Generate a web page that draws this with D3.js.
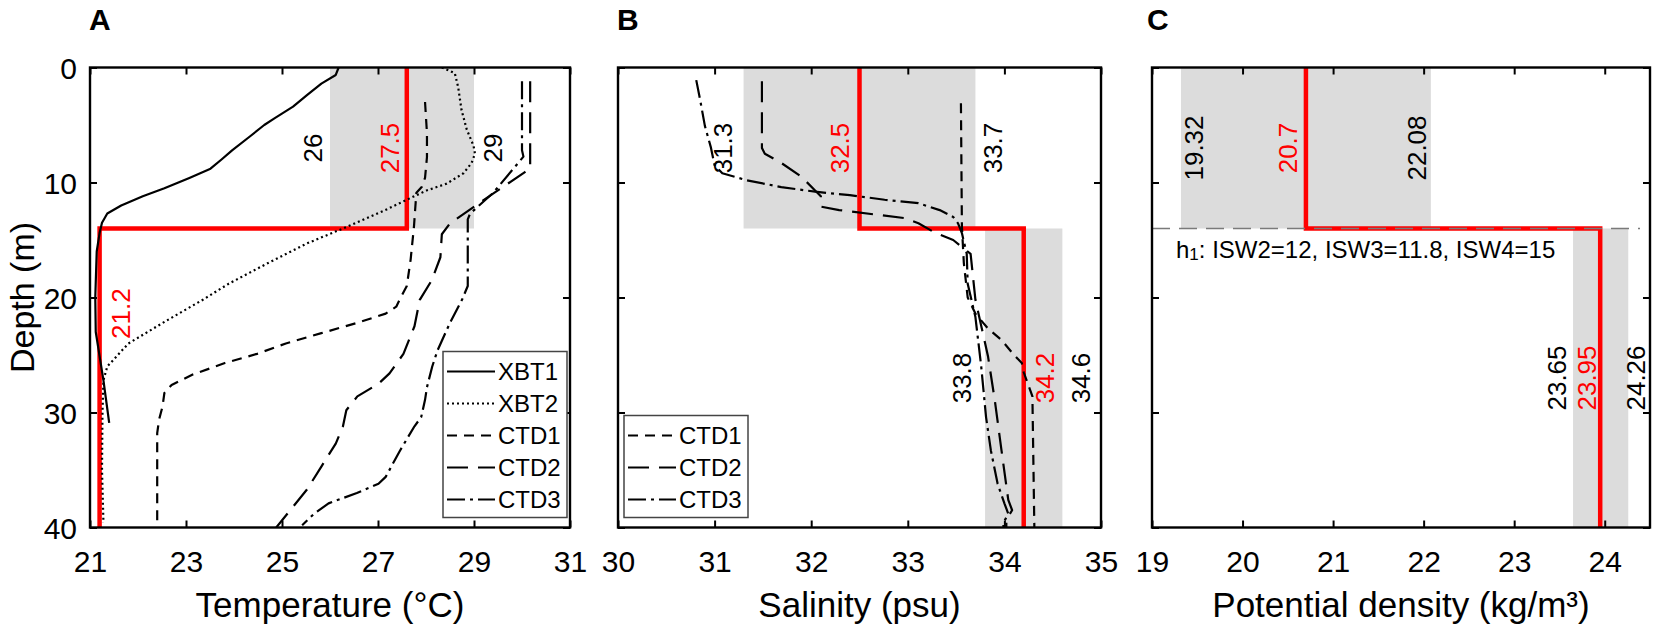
<!DOCTYPE html>
<html>
<head>
<meta charset="utf-8">
<script src="https://cdn.jsdelivr.net/npm/d3@7/dist/d3.min.js"></script>
<style>
  body { margin: 0; background: #fff; }
  svg text { font-family: "Liberation Sans", Arial, Helvetica, sans-serif; }
</style>
</head>
<body>
<svg id="chart" width="1655" height="630"></svg>
<script>
// ---------------- DATA ----------------
const depthTicks = [0, 10, 20, 30, 40];
const tempTicks = [21, 23, 25, 27, 29, 31];
const salTicks = [30, 31, 32, 33, 34, 35];
const densTicks = [19, 20, 21, 22, 23, 24];
const depthDomain = [0, 40];
const tempDomain = [21, 31];
const salDomain = [30, 35];
const densDomain = [19, 24.5];
const interfaceDepth = 14;

// two-layer means [upper, lower]
const tempMean = [27.6, 21.2];
const salMean = [32.5, 34.2];
const densMean = [20.7, 23.95];

// shaded ranges [low, high] for [upper layer, lower layer]
const tempBands = [[26, 29], null];
const salBands = [[31.3, 33.7], [33.8, 34.6]];
const densBands = [[19.32, 22.08], [23.65, 24.26]];

// value labels: text, reference value, depth, isMean
const tempLabels = [
  { t: "26", v: 26, d: 7, mean: false },
  { t: "27.5", v: 27.6, d: 7, mean: true },
  { t: "29", v: 29, d: 7, mean: false },
  { t: "21.2", v: 21.2, d: 21.4, mean: true }
];
const salLabels = [
  { t: "31.3", v: 31.3, d: 7, mean: false },
  { t: "32.5", v: 32.5, d: 7, mean: true },
  { t: "33.7", v: 33.7, d: 7, mean: false },
  { t: "33.8", v: 33.8, d: 27, mean: false },
  { t: "34.2", v: 34.2, d: 27, mean: true },
  { t: "34.6", v: 34.6, d: 27, mean: false }
];
const densLabels = [
  { t: "19.32", v: 19.32, d: 7, mean: false },
  { t: "20.7", v: 20.7, d: 7, mean: true },
  { t: "22.08", v: 22.08, d: 7, mean: false },
  { t: "23.65", v: 23.65, d: 27, mean: false },
  { t: "23.95", v: 23.95, d: 27, mean: true },
  { t: "24.26", v: 24.26, d: 27, mean: false }
];
const isoNote = ["h", "1", ": ISW2=12, ISW3=11.8, ISW4=15"];

// profiles: [depth (m), value]
const xbt1Temp = [[0,26.18],[0.65,26.12],[1.4,25.82],[2.4,25.52],[3.4,25.23],[4.4,24.85],[5.0,24.63],[6.0,24.33],[7.2,23.96],[8.0,23.74],[8.8,23.51],[9.6,23.07],[10.5,22.55],[11.2,22.10],[12.0,21.65],[12.7,21.36],[13.5,21.25],[14.4,21.2],[16,21.14],[20,21.11],[23,21.12],[27.2,21.28],[30.9,21.4]];
const xbt2Temp = [[0,28.33],[0.5,28.6],[1.7,28.67],[3.7,28.74],[5.4,28.85],[6.8,28.99],[7.5,29.02],[8.3,28.95],[9.2,28.78],[10.1,28.43],[10.7,28.01],[11.5,27.6],[12.4,27.15],[14.0,26.27],[15.3,25.52],[17.0,24.71],[18.8,23.89],[20.2,23.35],[22.0,22.6],[24.0,21.8],[26.0,21.36],[27.2,21.28],[30,21.26],[35,21.25],[39.6,21.28]];
const ctd1Temp = [[3.0,27.98],[5.7,28.02],[7.8,28.02],[9.6,27.98],[10.4,27.91],[10.9,27.8],[12,27.78],[13.8,27.75],[16.7,27.68],[19.0,27.6],[20.2,27.45],[20.8,27.38],[21.4,27.16],[22.2,26.57],[23.1,25.82],[24.0,25.08],[24.9,24.48],[25.7,23.81],[26.7,23.14],[27.6,22.70],[28.3,22.55],[29.5,22.51],[30.6,22.44],[31.8,22.40],[40,22.40]];
const ctd2Temp = [[1.2,30.17],[8.8,30.17],[9.1,30.06],[10.9,29.42],[13.55,28.5],[14.5,28.33],[16.5,28.3],[18.5,28.12],[20.2,27.87],[22.5,27.76],[24.9,27.53],[26.6,27.24],[27.5,27.01],[28.6,26.57],[29.8,26.34],[31.2,26.27],[32.7,26.12],[34.7,25.82],[36.7,25.52],[38.2,25.23],[40,24.88]];
const ctd3Temp = [[1.2,30.0],[7.2,30.0],[7.75,30.03],[10.9,29.4],[12.7,28.92],[13.2,28.87],[19.0,28.87],[20.2,28.75],[22.2,28.5],[24.6,28.24],[26.0,28.13],[27.8,28.02],[28.9,27.98],[30.4,27.9],[31.2,27.76],[33.3,27.46],[35.6,27.16],[36.2,27.01],[37.0,26.56],[37.9,25.97],[38.8,25.67],[39.8,25.42]];

const ctd1Sal = [[3.1,33.55],[13.8,33.56],[17,33.58],[20,33.62],[21.4,33.70],[22.7,33.83],[23.7,33.97],[24.9,34.09],[25.7,34.18],[26.5,34.2],[28.6,34.29],[40,34.31]];
const ctd2Sal = [[1.2,31.49],[7.0,31.49],[7.5,31.52],[8.3,31.69],[9.5,31.90],[10.7,32.04],[11.2,32.10],[12.1,32.1],[12.4,32.29],[13.1,32.97],[13.55,33.11],[14.4,33.29],[15.0,33.47],[16.2,33.65],[20.2,33.70],[25.1,33.83],[28.9,33.90],[33.3,33.97],[37.6,34.04],[38.5,34.08],[39.3,34.02],[40,34.02]];
const ctd3Sal = [[1.1,30.81],[2.8,30.85],[5.1,30.90],[6.9,30.96],[8.5,31.0],[9.2,31.08],[9.8,31.33],[10.4,31.69],[10.8,32.04],[11.1,32.40],[11.5,32.76],[11.8,33.11],[12.4,33.33],[13.0,33.47],[13.55,33.52],[14.4,33.56],[16.2,33.61],[18.8,33.62],[21.7,33.70],[26.0,33.76],[30.4,33.81],[33.3,33.86],[36.2,33.93],[37.9,34.0],[38.8,34.04],[39.6,33.99],[40,33.99]];

const tempSeriesNames = ["XBT1", "XBT2", "CTD1", "CTD2", "CTD3"];
const salSeriesNames = ["CTD1", "CTD2", "CTD3"];

// ---------------- LAYOUT / STYLE ----------------
const W = 1655, H = 630;
const plotTop = 67.5, plotBottom = 527.5;
const dashes = { XBT1: null, XBT2: "2,3", CTD1: "10,7", CTD2: "21,10", CTD3: "18,5,3,5" };
const RED = "#ff0000", BAND = "#dcdcdc";
const tempLabelDx = [-17, -17, 19, 21];
const salLabelDx = [-21, -20, 17, -23, 21, 18];
const densLabelDx = [13, -18, -14, -16, -14, 7];

const panels = [
  { letter: "A", left: 90, right: 570, domain: tempDomain, ticks: tempTicks, title: "Temperature (°C)",
    mean: tempMean, bands: tempBands, labels: tempLabels, dx: tempLabelDx,
    series: [xbt1Temp, xbt2Temp, ctd1Temp, ctd2Temp, ctd3Temp], names: tempSeriesNames, legend: "right", yLabels: true },
  { letter: "B", left: 618, right: 1101, domain: salDomain, ticks: salTicks, title: "Salinity (psu)",
    mean: salMean, bands: salBands, labels: salLabels, dx: salLabelDx,
    series: [ctd1Sal, ctd2Sal, ctd3Sal], names: salSeriesNames, legend: "left", yLabels: false },
  { letter: "C", left: 1152, right: 1650, domain: densDomain, ticks: densTicks, title: "Potential density (kg/m³)",
    mean: densMean, bands: densBands, labels: densLabels, dx: densLabelDx,
    series: [], names: [], legend: null, yLabels: false, interfaceLine: true, note: true }
];

const svg = d3.select("#chart");
const y = d3.scaleLinear().domain(depthDomain).range([plotTop, plotBottom]);
const defs = svg.append("defs");

panels.forEach((p, pi) => {
  const x = d3.scaleLinear().domain(p.domain).range([p.left, p.right]);
  const g = svg.append("g");
  const clipId = "clip" + pi;
  defs.append("clipPath").attr("id", clipId).append("rect")
    .attr("x", p.left).attr("y", plotTop).attr("width", p.right - p.left).attr("height", plotBottom - plotTop);
  const plot = g.append("g").attr("clip-path", `url(#${clipId})`);

  // shaded bands
  p.bands.forEach((b, i) => {
    if (!b) return;
    const d0 = i === 0 ? depthDomain[0] : interfaceDepth;
    const d1 = i === 0 ? interfaceDepth : depthDomain[1];
    plot.append("rect")
      .attr("x", x(b[0])).attr("y", y(d0))
      .attr("width", x(b[1]) - x(b[0])).attr("height", y(d1) - y(d0))
      .attr("fill", BAND);
  });

  // two-layer mean (red step)
  const stepPts = [[depthDomain[0], p.mean[0]], [interfaceDepth, p.mean[0]], [interfaceDepth, p.mean[1]], [depthDomain[1], p.mean[1]]];
  const line = d3.line().x(d => x(d[1])).y(d => y(d[0]));
  plot.append("path").attr("d", line(stepPts))
    .attr("fill", "none").attr("stroke", RED).attr("stroke-width", 4.5).attr("stroke-linejoin", "miter");

  // interface dashed line
  if (p.interfaceLine) {
    plot.append("line")
      .attr("x1", x(p.domain[0])).attr("x2", x(p.domain[1]) - 10)
      .attr("y1", y(interfaceDepth)).attr("y2", y(interfaceDepth))
      .attr("stroke", "#7a7a7a").attr("stroke-width", 1.6).attr("stroke-dasharray", "18,9");
  }

  // profiles
  p.series.forEach((s, i) => {
    plot.append("path").attr("d", line(s))
      .attr("fill", "none").attr("stroke", "#000").attr("stroke-width", 2.2)
      .attr("stroke-linejoin", "round")
      .attr("stroke-dasharray", dashes[p.names[i]]);
  });

  // axes (inward ticks, mirrored)
  const styleAxis = a => {
    a.select(".domain").remove();
    a.selectAll("line").attr("stroke", "#000").attr("stroke-width", 2);
  };
  g.append("g").attr("transform", `translate(0,${plotBottom})`)
    .call(d3.axisBottom(x).tickValues(p.ticks).tickSize(-7).tickFormat(d3.format("d")))
    .call(styleAxis)
    .call(a => a.selectAll("text").attr("y", 44.5).attr("dy", 0).attr("font-size", 30).attr("fill", "#000"));
  g.append("g").attr("transform", `translate(0,${plotTop})`)
    .call(d3.axisTop(x).tickValues(p.ticks).tickSize(-7).tickFormat(""))
    .call(styleAxis);
  g.append("g").attr("transform", `translate(${p.left},0)`)
    .call(d3.axisLeft(y).tickValues(depthTicks).tickSize(-7).tickPadding(13)
      .tickFormat(p.yLabels ? d3.format("d") : ""))
    .call(styleAxis)
    .call(a => a.selectAll("text").attr("font-size", 30).attr("fill", "#000").attr("dy", "0.36em"));
  g.append("g").attr("transform", `translate(${p.right},0)`)
    .call(d3.axisRight(y).tickValues(depthTicks).tickSize(-7).tickFormat(""))
    .call(styleAxis);

  // frame
  g.append("rect").attr("x", p.left).attr("y", plotTop)
    .attr("width", p.right - p.left).attr("height", plotBottom - plotTop)
    .attr("fill", "none").attr("stroke", "#000").attr("stroke-width", 2.4);

  // value labels (rotated)
  p.labels.forEach((l, i) => {
    const cx = x(l.v) + p.dx[i], cy = y(l.d);
    g.append("text")
      .attr("transform", `translate(${cx},${cy}) rotate(-90)`)
      .attr("text-anchor", "middle").attr("dy", "0.36em")
      .attr("font-size", 26).attr("fill", l.mean ? RED : "#000")
      .text(l.t);
  });

  // note in panel C
  if (p.note) {
    const t = g.append("text").attr("x", p.left + 24).attr("y", y(interfaceDepth) + 29)
      .attr("font-size", 24).attr("fill", "#000");
    t.append("tspan").text(isoNote[0]);
    t.append("tspan").attr("font-size", 17).attr("dy", 2).text(isoNote[1]);
    t.append("tspan").attr("dy", -2).text(isoNote[2]);
  }

  // legend
  if (p.legend) {
    const n = p.names.length, rowH = 32, bw = 124, bh = n * rowH + 6;
    const bx = p.legend === "right" ? p.right - 3 - bw : p.left + 6;
    const by = plotBottom - 10 - bh;
    const lg = g.append("g");
    lg.append("rect").attr("x", bx).attr("y", by).attr("width", bw).attr("height", bh)
      .attr("fill", "#fff").attr("stroke", "#444").attr("stroke-width", 1.5);
    p.names.forEach((nm, i) => {
      const cy = by + 20 + i * rowH;
      lg.append("line").attr("x1", bx + 4).attr("x2", bx + 52).attr("y1", cy).attr("y2", cy)
        .attr("stroke", "#000").attr("stroke-width", 2.2).attr("stroke-dasharray", dashes[nm]);
      lg.append("text").attr("x", bx + 55).attr("y", cy).attr("dy", "0.36em")
        .attr("font-size", 24).attr("fill", "#000").text(nm);
    });
  }

  // x title
  g.append("text").attr("x", (p.left + p.right) / 2).attr("y", 617)
    .attr("text-anchor", "middle").attr("font-size", 35).attr("fill", "#000").text(p.title);

  // panel letter
  g.append("text").attr("x", p.left - (pi === 2 ? 5 : 1)).attr("y", 30)
    .attr("font-size", 30).attr("font-weight", "bold").attr("fill", "#000").text(p.letter);

  // y title
  if (p.yLabels) {
    g.append("text").attr("transform", `translate(34,${(plotTop + plotBottom) / 2}) rotate(-90)`)
      .attr("text-anchor", "middle").attr("font-size", 34).attr("fill", "#000").text("Depth (m)");
  }
});
</script>
</body>
</html>
